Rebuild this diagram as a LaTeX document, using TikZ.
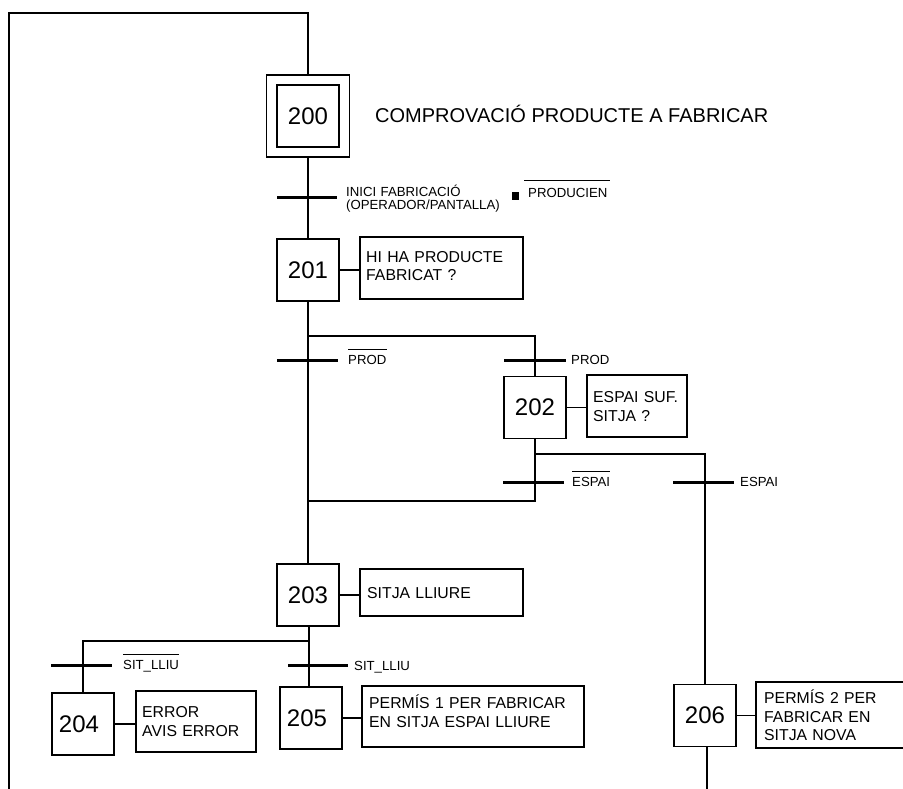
\documentclass[tikz,border=0pt]{standalone}
\usepackage{fontspec}
\setmainfont{Liberation Sans}
\tikzset{
  stepbox/.style={draw, line width=1.6pt, minimum width=62pt, minimum height=62pt, inner sep=0pt, font=\fontsize{24}{28}\selectfont},
  actbox/.style={draw, line width=1.6pt, inner sep=0pt},
  acttext/.style={anchor=base west, inner sep=0pt, align=left, font=\fontsize{15.8}{18.5}\selectfont},
  lnk/.style={line width=1.6pt},
  bar/.style={line width=3pt},
  tlabel/.style={anchor=base west, inner sep=0pt, align=left, font=\fontsize{13.2}{13.3}\selectfont},
  ovl/.style={line width=1pt},
}
\begin{document}
\begin{tikzpicture}[x=1pt,y=-1pt]
\useasboundingbox (0,0) rectangle (903,789);
\clip (0,0) rectangle (903,789);
% steps
\node[stepbox, minimum width=83pt, minimum height=82pt] (s200o) at (308,116) {};
\node[stepbox] (s200) at (308,116) {200};
\node[stepbox] (s201) at (308,270) {201};
\node[stepbox] (s202) at (535,407.5) {202};
\node[stepbox] (s203) at (308,595) {203};
\node[stepbox] (s204) at (83,724) {\hspace*{-8pt}204};
\node[stepbox] (s205) at (311,718) {\hspace*{-8pt}205};
\node[stepbox] (s206) at (705,715.5) {206};
% title of 200
\node[anchor=base west, inner sep=0pt, font=\fontsize{20}{24}\selectfont] (t200) at (375,122.2) {COMPROVACIÓ PRODUCTE A FABRICAR};
% action boxes
\node[actbox, minimum width=163pt, minimum height=62pt] (a201) at (441.5,268) {};
\node[actbox, minimum width=100pt, minimum height=62pt] (a202) at (637,406) {};
\node[actbox, minimum width=163pt, minimum height=47pt] (a203) at (441.5,592.5) {};
\node[actbox, minimum width=120pt, minimum height=61pt] (a204) at (196,721.5) {};
\node[actbox, minimum width=222pt, minimum height=61pt] (a205) at (473,716.5) {};
\node[actbox, minimum width=170pt, minimum height=66pt] (a206) at (841,715) {};
\node[acttext, text width=150pt] (x201) at (366,262.4) {HI HA PRODUCTE\\FABRICAT ?};
\node[acttext, text width=90pt] (x202) at (593,402.7) {ESPAI SUF.\\SITJA ?};
\node[acttext, text width=150pt] (x203) at (367,598.7) {SITJA LLIURE};
\node[acttext, text width=110pt] (x204) at (142,717.7) {ERROR\\AVIS ERROR};
\node[acttext, text width=210pt] (x205) at (369,708.7) {PERMÍS 1 PER FABRICAR\\EN SITJA ESPAI LLIURE};
\node[acttext, text width=150pt] (x206) at (764,703.7) {PERMÍS 2 PER\\FABRICAR EN\\SITJA NOVA};
% step-action links
\draw[lnk] (s201.east) -- (s201.east -| a201.west);
\draw[lnk] (s202.east) -- (s202.east -| a202.west);
\draw[lnk] (s203.east) -- (s203.east -| a203.west);
\draw[lnk] (s204.east) -- (s204.east -| a204.west);
\draw[lnk] (s205.east) -- (s205.east -| a205.west);
\draw[lnk] (s206.east) -- (s206.east -| a206.west);
% junction points
\coordinate (loopB) at (9,792);
\coordinate (loopTL) at (9,13);
\coordinate (loopTR) at (308,13);
\coordinate (j1) at (308,336);
\coordinate (j2) at (535,454);
\coordinate (j3) at (308,501);
\coordinate (j4) at (309,641);
\coordinate (bot206) at (707,792);
% sequence links
\draw[lnk] (loopB) -- (loopTL) -- (loopTR) -- (s200o.north);
\draw[lnk] (s200o.south) -- (s201.north);
\draw[lnk] (s201.south) -- (s203.north);
\draw[lnk] (j1) -| (s202.north);
\draw[lnk] (s202.south) |- (j3);
\draw[lnk] (j2) -| (s206.north);
\draw[lnk] ([xshift=1pt]s203.south) -- ([xshift=1pt]s203.south |- s205.north);
\draw[lnk] (j4) -| (s204.north);
\draw[lnk] ([xshift=2pt]s206.south) -- (bot206);
% transitions
\coordinate (t0) at (308,198);
\coordinate (tp1) at (308,360);
\coordinate (tp2) at (535,360);
\coordinate (te1) at (535,482);
\coordinate (te2) at (705,482);
\coordinate (ts1) at (83,665);
\coordinate (ts2) at (309,665);
\draw[bar] ([xshift=-31pt]t0) -- ([xshift=29pt]t0);
\draw[bar] ([xshift=-31pt]tp1) -- ([xshift=30pt]tp1);
\draw[bar] ([xshift=-31pt]tp2) -- ([xshift=31pt]tp2);
\draw[bar] ([xshift=-32pt]te1) -- ([xshift=29pt]te1);
\draw[bar] ([xshift=-32pt]te2) -- ([xshift=29pt]te2);
\draw[bar] ([xshift=-32pt]ts1) -- ([xshift=29pt]ts1);
\draw[bar] ([xshift=-21pt]ts2) -- ([xshift=39pt]ts2);
% transition labels
\node[tlabel, text width=130pt] (l0) at (346,196.4) {INICI FABRICACIÓ\\(OPERADOR/PANTALLA)};
\node[fill=black, inner sep=0pt, minimum size=7.5pt] (sq) at (515.5,196) {};
\node[tlabel] (l0b) at (528,197.4) {PRODUCIEN};
\draw[ovl] ([xshift=-4pt,yshift=7pt]l0b.north west) -- ([xshift=2pt,yshift=7pt]l0b.north east);
\node[tlabel] (lp1) at (348,364.7) {PROD};
\draw[ovl] ([yshift=6pt]lp1.north west) -- ([yshift=6pt]lp1.north east);
\node[tlabel] (lp2) at (571,364.7) {PROD};
\node[tlabel] (le1) at (572,486.7) {ESPAI};
\draw[ovl] ([yshift=6pt]le1.north west) -- ([yshift=6pt]le1.north east);
\node[tlabel] (le2) at (740,486.7) {ESPAI};
\node[tlabel] (ls1) at (123,669.7) {SIT\_LLIU};
\draw[ovl] ([yshift=5.5pt]ls1.north west) -- ([yshift=5.5pt]ls1.north east);
\node[tlabel] (ls2) at (354,670.2) {SIT\_LLIU};
\end{tikzpicture}
\end{document}
